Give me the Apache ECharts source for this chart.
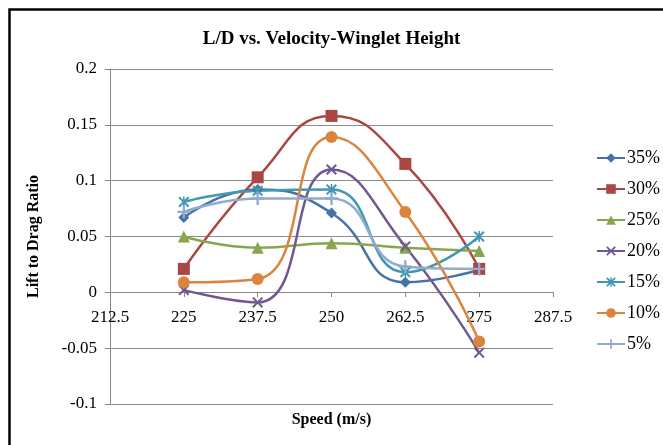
<!DOCTYPE html>
<html>
<head>
<meta charset="utf-8">
<script src="https://cdn.jsdelivr.net/npm/echarts@6/dist/echarts.min.js"></script>
<style>html,body{margin:0;padding:0;background:#fff;}#c{width:663px;height:445px;}</style>
</head>
<body>
<div id="c"></div>
<script>
const speeds = [225, 237.5, 250, 262.5, 275];
const seriesNames = ['35%', '30%', '25%', '20%', '15%', '10%', '5%'];
const h35 = [0.067, 0.092, 0.071, 0.009, 0.020];
const h30 = [0.021, 0.103, 0.158, 0.115, 0.021];
const h25 = [0.050, 0.040, 0.044, 0.040, 0.037];
const h20 = [0.002, -0.009, 0.110, 0.041, -0.054];
const h15 = [0.081, 0.091, 0.092, 0.018, 0.050];
const h10 = [0.009, 0.012, 0.139, 0.072, -0.044];
const h5  = [0.072, 0.084, 0.084, 0.023, 0.021];
const yTicks = ['-0.1', '-0.05', '0', '0.05', '0.1', '0.15', '0.2'];
const xTicks = ['212.5', '225', '237.5', '250', '262.5', '275', '287.5'];

const values = [h35, h30, h25, h20, h15, h10, h5];
const colors = ['#4572A7', '#AA4643', '#89A54E', '#71588F', '#4198AF', '#DB843D', '#93A9CF'];
const X = 'path://M0,1.3L1.3,0L5,3.7L8.7,0L10,1.3L6.3,5L10,8.7L8.7,10L5,6.3L1.3,10L0,8.7L3.7,5Z';
const STAR = 'path://M0,1.3L1.3,0L5,3.7L8.7,0L10,1.3L6.3,5L10,8.7L8.7,10L5,6.3L1.3,10L0,8.7L3.7,5Z M4.3,0H5.7V10H4.3Z';
const PLUS = 'path://M4.1,0H5.9V4.1H10V5.9H5.9V10H4.1V5.9H0V4.1H4.1Z';
const symbols = ['diamond', 'rect', 'triangle', X, STAR, 'circle', PLUS];
const sizes = [11, 12, 12, 11, 11, 12, 13];
const font = "'Liberation Serif', 'Times New Roman', serif";

const series = seriesNames.map((n, i) => ({
  name: n,
  type: 'line',
  smooth: 0.5,
  data: speeds.map((s, j) => [s, values[i][j]]),
  symbol: symbols[i],
  symbolSize: sizes[i],
  showSymbol: true,
  lineStyle: { width: 2.5, color: colors[i] },
  itemStyle: { color: colors[i] },
  emphasis: { disabled: true }
}));

const chart = echarts.init(document.getElementById('c'), null, { renderer: 'canvas' });
chart.setOption({
  animation: false,
  backgroundColor: '#fff',
  title: {
    text: 'L/D vs. Velocity-Winglet Height',
    left: 'center',
    top: 30,
    padding: 0,
    textStyle: { fontFamily: font, fontWeight: 'bold', fontSize: 19, color: '#000' }
  },
  graphic: [{
    type: 'rect',
    shape: { x: 9.5, y: 9.5, width: 700, height: 500 },
    style: { fill: 'none', stroke: '#000', lineWidth: 2.5 },
    z: 100
  }],
  grid: { left: 110, right: 110, top: 69, bottom: 41, containLabel: false, outerBoundsMode: 'none' },
  legend: {
    orient: 'vertical',
    left: 596,
    top: 149,
    itemWidth: 28,
    itemHeight: 12,
    itemGap: 13,
    padding: 0,
    data: seriesNames,
    textStyle: { fontFamily: font, fontSize: 18, color: '#000', lineHeight: 18, padding: [0, 0, 0, -3] }
  },
  xAxis: {
    type: 'value',
    min: 212.5,
    max: 287.5,
    interval: 12.5,
    position: 'bottom',
    offset: -112,
    name: 'Speed (m/s)',
    nameLocation: 'middle',
    nameGap: 120,
    nameTextStyle: { fontFamily: font, fontWeight: 'bold', fontSize: 16, color: '#000' },
    axisLine: { show: true, onZero: false, lineStyle: { color: '#868686', width: 1 } },
    axisTick: { show: true, inside: false, length: 5, lineStyle: { color: '#868686' } },
    splitLine: { show: false },
    axisLabel: {
      margin: 17,
      fontFamily: font, fontSize: 17, color: '#000',
      formatter: v => { const k = Math.round((v - 212.5) / 12.5); return xTicks[k] !== undefined ? xTicks[k] : ''; }
    }
  },
  yAxis: {
    type: 'value',
    min: -0.1,
    max: 0.2,
    interval: 0.05,
    name: 'Lift to Drag Ratio',
    nameLocation: 'middle',
    nameRotate: 90,
    nameGap: 68,
    nameTextStyle: { fontFamily: font, fontWeight: 'bold', fontSize: 16, color: '#000' },
    axisLine: { show: true, lineStyle: { color: '#868686', width: 1 } },
    axisTick: { show: true, length: 5, lineStyle: { color: '#868686' } },
    splitLine: { show: true, lineStyle: { color: '#8c8c8c', width: 1 } },
    axisLabel: {
      margin: 13,
      fontFamily: font, fontSize: 17, color: '#000',
      formatter: v => { const k = Math.round((v + 0.1) / 0.05); return yTicks[k] !== undefined ? yTicks[k] : ''; }
    }
  },
  series: series
});
</script>
</body>
</html>
